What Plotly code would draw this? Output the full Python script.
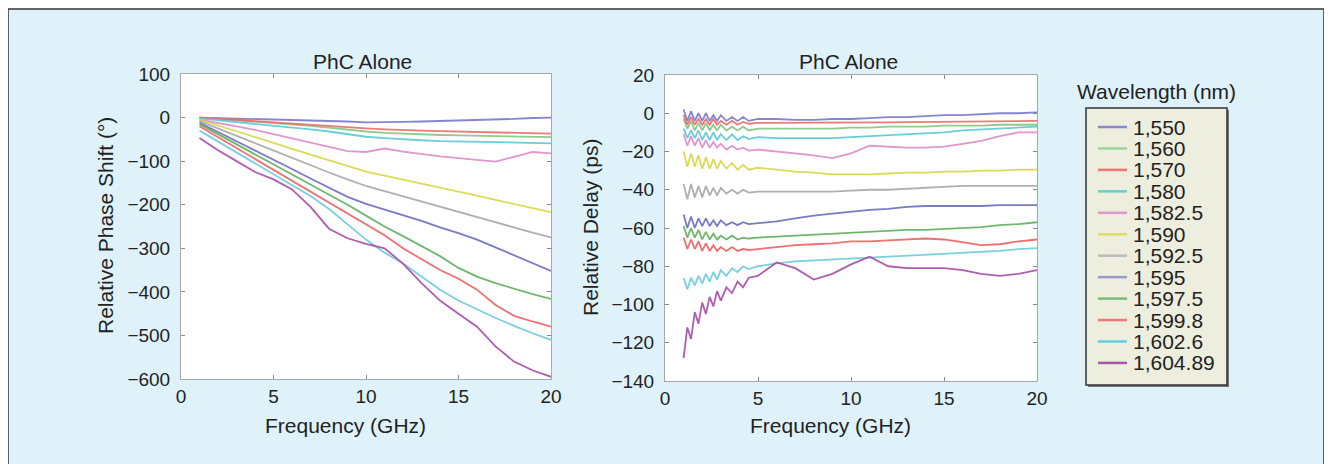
import plotly.graph_objects as go

W, H = 1332, 464
OFF = 8  # the page body adds an 8 px margin round the figure
FONT = "Liberation Sans, Arial, sans-serif"

wavelengths = ['1,550', '1,560', '1,570', '1,580', '1,582.5', '1,590', '1,592.5',
               '1,595', '1,597.5', '1,599.8', '1,602.6', '1,604.89']
colors = ['#7a7acc', '#80c880', '#f06a6a', '#5cc8d8', '#dc8cc8', '#d8d846', '#a8a8a8',
          '#6c6cc0', '#60b060', '#f06060', '#6cccdc', '#a84ca8']
legend_colors = ['#8888cc', '#99d699', '#ee7777', '#66cccc', '#dd99cc', '#dddd66', '#bbbbbb',
                 '#9999cc', '#77bb77', '#ee7777', '#66ccdd', '#aa55aa']

# left panel: relative phase shift (deg) vs frequency (GHz)
freq_phase = [1, 2, 3, 4, 5, 6, 7, 8, 9, 10, 11, 12, 13, 14, 15, 16, 17, 18, 19, 20]
phase_1550 = [0, -1, -2, -3, -4, -5, -6, -7, -9, -11, -11, -10, -9, -8, -6, -5, -4, -3, -1, 0]
phase_1560 = [0, -3, -6, -9, -12, -15, -19, -23, -28, -32, -35, -37, -39, -40, -41, -42, -43, -44, -45, -45]
phase_1570 = [0, -2, -5, -8, -11, -14, -17, -20, -23, -25, -27, -29, -30, -31, -32, -33, -34, -35, -36, -37]
phase_1580 = [-2, -6, -10, -14, -18, -22, -27, -32, -38, -44, -47, -50, -52, -54, -55, -56, -57, -57, -58, -59]
phase_1582 = [-5, -12, -20, -28, -38, -48, -58, -68, -77, -79, -71, -78, -84, -89, -93, -97, -101, -90, -79, -82]
phase_1590 = [-5, -18, -32, -45, -58, -72, -85, -98, -112, -124, -133, -142, -151, -160, -170, -179, -189, -198, -208, -217]
phase_1592 = [-8, -25, -42, -59, -76, -92, -109, -126, -142, -157, -169, -181, -193, -205, -217, -229, -240, -252, -264, -275]
phase_1595 = [-12, -33, -54, -76, -97, -118, -140, -161, -182, -198, -211, -224, -237, -252, -265, -280, -298, -316, -334, -352]
phase_1597 = [-15, -38, -61, -84, -107, -130, -153, -176, -200, -225, -250, -272, -295, -318, -345, -365, -380, -393, -405, -416]
phase_1599 = [-20, -45, -70, -95, -120, -145, -170, -195, -220, -245, -270, -300, -325, -350, -370, -395, -430, -455, -468, -480]
phase_1602 = [-30, -55, -80, -105, -130, -155, -180, -210, -245, -280, -310, -335, -365, -395, -420, -440, -460, -478, -495, -510]
phase_1604 = [-47, -75, -100, -125, -142, -165, -205, -255, -277, -290, -300, -335, -380, -420, -450, -480, -525, -560, -580, -595]

# right panel: relative delay (ps) vs frequency (GHz)
freq_delay = [1, 1.2, 1.4, 1.6, 1.8, 2, 2.2, 2.4, 2.6, 2.8, 3, 3.3, 3.6, 3.9, 4.2, 4.5,
              5, 6, 7, 8, 9, 10, 11, 12, 13, 14, 15, 16, 17, 18, 19, 20]
delay_1550 = [2, -4, 1, -4, 0, -4, 0, -4, -1, -4, -1, -4, -2, -4, -2, -4,
              -3, -3, -3.5, -3.5, -3, -3, -2.5, -2, -2, -1.5, -1, -1, -0.5, 0, 0, 0.5]
delay_1560 = [-3, -8, -4, -9, -5, -9, -5, -9, -6, -9, -6, -9, -7, -9, -7, -9,
              -8, -8, -8, -8, -8, -7.5, -7.5, -7, -7, -7, -6.5, -6.5, -6.5, -6, -6, -6]
delay_1570 = [-1, -6, -2, -6, -3, -6, -3, -6, -3, -6, -4, -6, -4, -6, -4.5, -5.5,
              -5, -5, -5, -5, -5, -5, -5, -4.8, -4.6, -4.5, -4.4, -4.3, -4.2, -4.2, -4.2, -4]
delay_1580 = [-8, -13, -9, -13, -9, -14, -10, -14, -10, -14, -11, -14, -11, -14, -12, -13.5,
              -12.5, -13, -13, -13, -13, -12.5, -12, -11.5, -11, -10.5, -10, -9, -8.5, -8, -7.5, -7]
delay_1582 = [-11, -17, -12, -17, -13, -18, -14, -18, -15, -18, -16, -19, -17, -19, -18, -19.5,
              -19, -20, -21, -22, -23.5, -21, -17, -17.5, -18, -18, -17.5, -16, -14.5, -12, -10, -10]
delay_1590 = [-20, -28, -21, -28, -22, -29, -23, -29, -24, -29, -25, -29, -26, -29.5, -27, -29.5,
              -28.5, -29.5, -30.5, -31, -32, -32, -32, -31.5, -31, -31, -30.5, -30.5, -30, -30, -29.5, -29.5]
delay_1592 = [-37, -45, -37, -44, -38, -44, -38, -43, -39, -43, -39, -42, -40, -42, -40, -41.5,
              -41, -41, -41, -41, -41, -40.5, -40, -40, -39.5, -39, -38.5, -38, -38, -38, -38, -38]
delay_1595 = [-53, -60, -54, -60, -55, -59, -55, -59, -56, -59, -56, -58.5, -57, -58.5, -57, -58,
              -57.5, -56.5, -55, -53.5, -52.5, -51.5, -50.5, -50, -49, -48.5, -48.5, -48.5, -48.5, -48, -48, -48]
delay_1597 = [-59, -65, -60, -65, -61, -66, -62, -66, -63, -66, -64, -66, -64, -66, -65, -65.5,
              -65, -64.5, -64, -63.5, -63, -62.5, -62, -61.5, -61, -61, -60.5, -60, -59.5, -58.5, -58, -57]
delay_1599 = [-65, -71, -66, -71, -67, -72, -68, -72, -69, -72, -70, -72, -70, -72, -71, -71.5,
              -71, -70, -69, -68.5, -68, -67, -67, -66.5, -66, -65.5, -66, -67.5, -69, -68.5, -67, -66]
delay_1602 = [-86, -92, -86, -90, -85, -89, -84, -88, -83, -87, -82, -85, -81, -83, -80, -81.5,
              -80, -78.5, -77.5, -77, -76.5, -76, -75.5, -75, -74.5, -74, -73.5, -73, -72.5, -72, -71, -70.5]
delay_1604 = [-128, -112, -118, -104, -110, -99, -105, -96, -101, -93, -98, -91, -94, -88, -91, -86,
              -85, -78, -81, -87, -84, -79, -75, -80, -81, -81, -81, -82, -84, -85, -84, -82]

phase = [phase_1550, phase_1560, phase_1570, phase_1580, phase_1582, phase_1590,
         phase_1592, phase_1595, phase_1597, phase_1599, phase_1602, phase_1604]
delay = [delay_1550, delay_1560, delay_1570, delay_1580, delay_1582, delay_1590,
         delay_1592, delay_1595, delay_1597, delay_1599, delay_1602, delay_1604]


# screen pixel -> paper fraction
def px(x):
    return (x - OFF) / W


def py(y):
    return 1 - (y - OFF) / H


fig = go.Figure()
for i, name in enumerate(wavelengths):
    fig.add_trace(go.Scatter(x=freq_phase, y=phase[i], mode='lines', name=name,
                             line=dict(color=colors[i], width=1.8), opacity=0.9,
                             xaxis='x', yaxis='y', showlegend=False))
    fig.add_trace(go.Scatter(x=freq_delay, y=delay[i], mode='lines', name=name,
                             line=dict(color=colors[i], width=1.8), opacity=0.9,
                             xaxis='x2', yaxis='y2', showlegend=False))

axis_style = dict(showline=True, linecolor='#a8a8a8', linewidth=1, mirror='ticks',
                  ticks='inside', ticklen=4, tickcolor='#888888', showgrid=False,
                  zeroline=False, automargin=False,
                  tickfont=dict(family=FONT, size=19, color='#222222'))

shapes = [
    # blue panel
    dict(type='rect', xref='paper', yref='paper', x0=px(8), x1=px(1324), y0=-0.05, y1=py(9),
         fillcolor='#dff2fa', line=dict(color='#333333', width=1.5), layer='below'),
    # white plot areas
    dict(type='rect', xref='x domain', yref='y domain', x0=0, x1=1, y0=0, y1=1,
         fillcolor='white', line=dict(width=0), layer='below'),
    dict(type='rect', xref='x2 domain', yref='y2 domain', x0=0, x1=1, y0=0, y1=1,
         fillcolor='white', line=dict(width=0), layer='below'),
    # legend box shadow and box
    dict(type='rect', xref='paper', yref='paper', x0=px(1088), x1=px(1229), y0=py(387), y1=py(110),
         fillcolor='#777777', line=dict(width=0)),
    dict(type='rect', xref='paper', yref='paper', x0=px(1086), x1=px(1227), y0=py(385), y1=py(108),
         fillcolor='#eeeede', line=dict(color='#333333', width=1.5)),
]

title_font = dict(family=FONT, size=21, color='#222222')


def label(text, x, y, angle=0):
    return dict(text=text, x=px(x), y=py(y), xref='paper', yref='paper', showarrow=False,
                xanchor='center', yanchor='middle', textangle=angle, font=title_font)


annotations = [
    label('PhC Alone', 362, 61),
    label('PhC Alone', 849, 61),
    label('Frequency (GHz)', 345, 425),
    label('Frequency (GHz)', 830, 425),
    label('Relative Phase Shift (°)', 105, 226, -90),
    label('Relative Delay (ps)', 590, 228, -90),
    label('Wavelength (nm)', 1156, 91),
]

# hand-built legend so that rows sit as tightly as in the original
for i, name in enumerate(wavelengths):
    row = 127 + i * 21.45
    shapes.append(dict(type='line', xref='paper', yref='paper', x0=px(1098), x1=px(1127),
                       y0=py(row), y1=py(row), line=dict(color=legend_colors[i], width=2.5)))
    annotations.append(dict(text=name, x=px(1131), y=py(row), xref='paper', yref='paper',
                            xanchor='left', yanchor='middle', showarrow=False,
                            font=dict(family=FONT, size=21, color='#222222')))

fig.update_layout(
    width=W, height=H,
    margin=dict(l=0, r=0, t=0, b=0, pad=0),
    paper_bgcolor='white', plot_bgcolor='white',
    showlegend=False,
    xaxis=dict(domain=[px(181), px(551)], range=[0, 20], dtick=5, anchor='y',
               ticklabelstandoff=0, **axis_style),
    yaxis=dict(domain=[py(379), py(74)], range=[-600, 100], dtick=100, anchor='x',
               ticklabelstandoff=6, **axis_style),
    xaxis2=dict(domain=[px(665), px(1037)], range=[0, 20], dtick=5, anchor='y2',
                ticklabelstandoff=0, **axis_style),
    yaxis2=dict(domain=[py(381), py(75)], range=[-140, 20], dtick=20, anchor='x2',
                ticklabelstandoff=6, **axis_style),
    shapes=shapes,
    annotations=annotations,
)

fig.write_html("out.html")
